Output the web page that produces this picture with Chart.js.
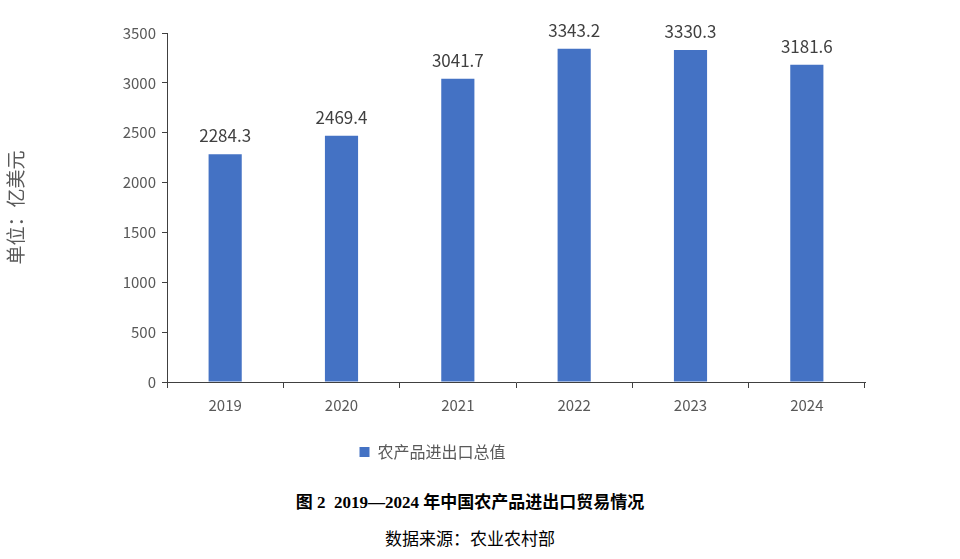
<!DOCTYPE html>
<html lang="zh-CN"><head><meta charset="UTF-8">
<script src="https://cdn.jsdelivr.net/npm/chart.js@4/dist/chart.umd.min.js"></script>
<style>
*{margin:0;padding:0;box-sizing:border-box}
body{width:960px;height:559px;background:#fff;overflow:hidden;font-family:"Liberation Serif","Noto Sans CJK SC",serif}
#wrap{position:relative;width:960px;height:470px}
.cap{position:absolute;left:0;width:940px;text-align:center;color:#000}
#t1{top:488px;font-size:17px;font-weight:bold}
#t2{top:525px;font-size:17px}
</style></head><body>
<div id="wrap"><canvas id="c" width="960" height="470"></canvas></div>
<div class="cap" id="t1">图 2&nbsp; 2019—2024 年中国农产品进出口贸易情况</div>
<div class="cap" id="t2">数据来源：农业农村部</div>
<script>
const years = ['2019', '2020', '2021', '2022', '2023', '2024'];
const tradeValue = [2284.3, 2469.4, 3041.7, 3343.2, 3330.3, 3181.6];
const seriesName = '农产品进出口总值';

const font = '"Microsoft YaHei","Noto Sans CJK SC",sans-serif';

// 柱顶数值
const valueLabels = {
  id: 'valueLabels',
  afterDatasetsDraw(chart) {
    const ctx = chart.ctx;
    const meta = chart.getDatasetMeta(0);
    ctx.save();
    ctx.font = '17px ' + font;
    ctx.fillStyle = '#404040';
    ctx.textAlign = 'center';
    ctx.textBaseline = 'bottom';
    meta.data.forEach((bar, i) => {
      ctx.fillText(tradeValue[i].toFixed(1), bar.x, bar.y - 10);
    });
    ctx.restore();
  }
};

new Chart(document.getElementById('c'), {
  type: 'bar',
  data: {
    labels: years,
    datasets: [{ label: seriesName, data: tradeValue, backgroundColor: '#4472C4', barPercentage: 0.5, categoryPercentage: 0.57 }]
  },
  options: {
    responsive: false,
    animation: false,
    devicePixelRatio: 1,
    layout: { padding: { left: 0, right: 95, top: 33, bottom: 0 } },
    plugins: {
      tooltip: { enabled: false },
      legend: {
        position: 'bottom',
        labels: { font: { size: 16, family: font }, color: '#595959', boxWidth: 10, boxHeight: 10, padding: 10 }
      }
    },
    scales: {
      x: {
        grid: { display: true, drawOnChartArea: false, offset: true, tickLength: 6, color: '#404040' },
        border: { color: '#404040' },
        ticks: { font: { size: 15, family: font }, color: '#595959', padding: 8, maxRotation: 0 },
        afterFit(s) { s.height = 52; }
      },
      y: {
        min: 0, max: 3500,
        ticks: { stepSize: 500, font: { size: 15, family: font }, color: '#595959', padding: 6, callback: v => String(v) },
        grid: { display: true, drawOnChartArea: false, tickLength: 5, color: '#404040' },
        border: { color: '#404040' },
        title: { display: true, text: '单位：亿美元', font: { size: 19, family: font }, color: '#595959', padding: { bottom: 12 } },
        afterFit(s) { s.width = 167; }
      }
    }
  },
  plugins: [valueLabels]
});
</script>
</body></html>
